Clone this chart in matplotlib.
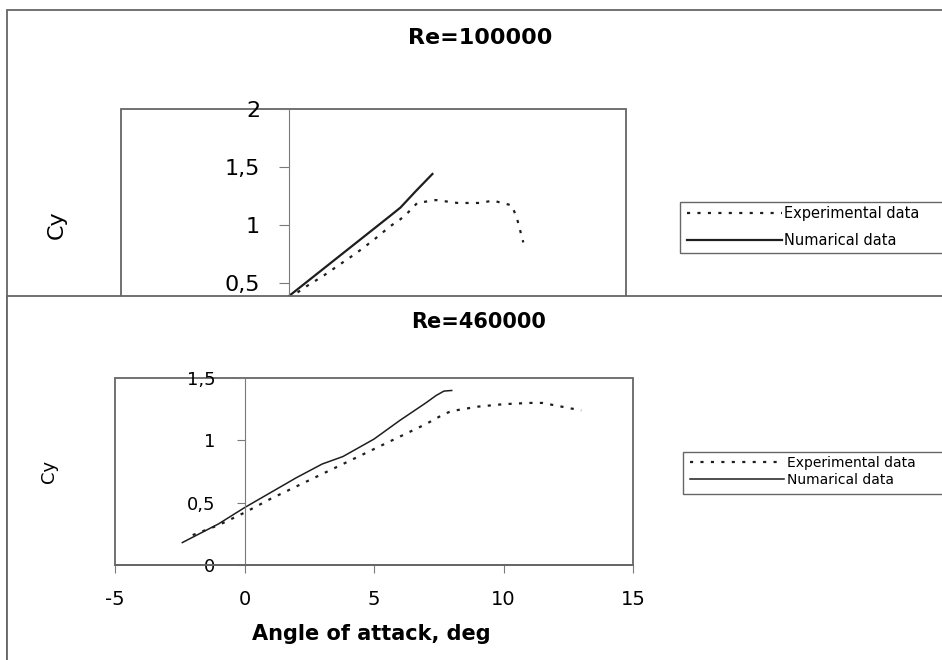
import matplotlib
matplotlib.use("Agg")
import matplotlib.pyplot as plt
from matplotlib.patches import Rectangle

# figure size in pixels, everything below is placed on this grid
W, H = 942, 660

# ---- data: Re = 100000 (upper chart) ----
exp_top_x = [-2, 0, 1, 2, 3, 4, 5, 6, 6.6, 7, 7.6, 8.7, 10, 11.3, 12.1, 13.2, 13.5, 13.9]
exp_top_y = [0.15, 0.37, 0.47, 0.56, 0.66, 0.76, 0.87, 0.99, 1.05, 1.10, 1.19, 1.215,
             1.19, 1.19, 1.21, 1.17, 1.07, 0.85]
num_top_x = [-2, 0, 2, 4, 6, 6.6, 7.5, 8.5]
num_top_y = [0.16, 0.39, 0.62, 0.85, 1.08, 1.15, 1.29, 1.44]

# ---- data: Re = 460000 (lower chart) ----
exp_bot_x = [-2, -1, 0, 1, 2, 3, 4, 5, 6, 7, 7.7, 8, 9, 10, 11, 11.5, 12, 13]
exp_bot_y = [0.24, 0.32, 0.42, 0.53, 0.63, 0.73, 0.83, 0.93, 1.03, 1.13, 1.21, 1.235,
             1.27, 1.29, 1.30, 1.30, 1.28, 1.24]
num_bot_x = [-2.4, -1, 0, 1, 2, 3, 3.8, 5, 6, 7, 7.4, 7.7, 8]
num_bot_y = [0.18, 0.33, 0.46, 0.58, 0.70, 0.81, 0.87, 1.01, 1.16, 1.30, 1.36, 1.395, 1.40]

top_yticks = [0.5, 1, 1.5, 2]
top_yticklabels = ["0,5", "1", "1,5", "2"]
bot_yticks = [0, 0.5, 1, 1.5]
bot_yticklabels = ["0", "0,5", "1", "1,5"]
bot_xticks = [-5, 0, 5, 10, 15]
bot_xticklabels = ["-5", "0", "5", "10", "15"]

labels = ["Experimental data", "Numarical data"]

FRAME = "#666666"
AXIS = "#7a7a7a"
INK = "#1e1e1e"


def frac_rect(x0, y0, x1, y1):
    # pixel box (top-left origin) -> figure fraction [left, bottom, width, height]
    return [x0 / W, 1 - y1 / H, (x1 - x0) / W, (y1 - y0) / H]


def fig_box(x0, y0, x1, y1, **kw):
    l, b, w, h = frac_rect(x0, y0, x1, y1)
    return Rectangle((l, b), w, h, transform=fig.transFigure, **kw)


def style_axes(ax):
    # excel style: y axis sits at x = 0, plot area drawn as a box
    ax.spines["left"].set_position(("data", 0))
    ax.spines["left"].set_color(AXIS)
    ax.spines["left"].set_linewidth(0.8)
    ax.spines["right"].set_visible(False)
    ax.spines["top"].set_visible(False)
    ax.add_patch(Rectangle((0, 0), 1, 1, transform=ax.transAxes, fill=False,
                           edgecolor=FRAME, linewidth=1.3, clip_on=False))


fig = plt.figure(figsize=(W / 100, H / 100), dpi=100)

# outer frame of the first chart
fig.add_artist(fig_box(7, 10, 990, 720, fill=False, edgecolor=FRAME, linewidth=1.3, zorder=0.5))

# ---- upper chart ----
ax1 = fig.add_axes(frac_rect(121, 109, 626, 341), zorder=0)
ax1.plot(exp_top_x, exp_top_y, color=INK, linewidth=1.6, linestyle=(0, (1.4, 3.3)),
         dash_capstyle="butt")
ax1.plot(num_top_x, num_top_y, color=INK, linewidth=1.6)
ax1.set_xlim(-10, 20)
ax1.set_ylim(0, 2)
style_axes(ax1)
ax1.spines["bottom"].set_visible(False)
ax1.tick_params(axis="x", bottom=False, labelbottom=False)
ax1.set_yticks(top_yticks)
ax1.set_yticklabels(top_yticklabels)
ax1.tick_params(axis="y", direction="out", length=7, width=0.8, color=AXIS, pad=14,
                labelsize=16)
ax1.set_ylabel("Cy", fontsize=16)
ax1.yaxis.set_label_coords(-0.107, 0.5)
fig.text(480 / W, 1 - 38 / H, "Re=100000", ha="center", va="center",
         fontsize=16, fontweight="bold")

fig.add_artist(fig_box(680, 202, 990, 253, facecolor="white", edgecolor=FRAME,
                       linewidth=1.0, zorder=0.8))
fig.legend(ax1.get_lines(), labels, loc="upper left",
           bbox_to_anchor=(687 / W, 1 - 206 / H), frameon=False, fontsize=10.5,
           handlelength=6.5, handletextpad=0.15, borderpad=0, borderaxespad=0,
           labelspacing=0.85)

# ---- second chart pasted over the lower part of the first ----
fig.add_artist(fig_box(7, 296, 990, 720, facecolor="white", edgecolor=FRAME,
                       linewidth=1.3, zorder=1))

ax2 = fig.add_axes(frac_rect(115, 378, 633, 565), zorder=2)
ax2.plot(exp_bot_x, exp_bot_y, color=INK, linewidth=1.6, linestyle=(0, (1.4, 3.3)),
         dash_capstyle="butt")
ax2.plot(num_bot_x, num_bot_y, color=INK, linewidth=1.1)
ax2.set_xlim(-5, 15)
ax2.set_ylim(0, 1.5)
style_axes(ax2)
ax2.spines["bottom"].set_color(FRAME)
ax2.spines["bottom"].set_linewidth(1.3)
ax2.set_xticks(bot_xticks)
ax2.set_xticklabels(bot_xticklabels)
ax2.set_yticks(bot_yticks)
ax2.set_yticklabels(bot_yticklabels)
ax2.tick_params(axis="x", direction="out", length=6, width=0.8, color=AXIS, pad=12,
                labelsize=14)
ax2.tick_params(axis="y", direction="out", length=6, width=0.8, color=AXIS, pad=15,
                labelsize=13)
ax2.set_ylabel("Cy", fontsize=13)
ax2.yaxis.set_label_coords(-0.110, 0.5)
ax2.set_xlabel("Angle of attack, deg", fontsize=15, fontweight="bold")
ax2.xaxis.set_label_coords(0.494, -0.318)
fig.text(479 / W, 1 - 322 / H, "Re=460000", ha="center", va="center",
         fontsize=15, fontweight="bold")

fig.add_artist(fig_box(683, 452, 990, 494, facecolor="white", edgecolor=FRAME,
                       linewidth=1.0, zorder=1.5))
fig.legend(ax2.get_lines(), labels, loc="upper left",
           bbox_to_anchor=(690 / W, 1 - 456 / H), frameon=False, fontsize=10,
           handlelength=6.8, handletextpad=0.15, borderpad=0, borderaxespad=0,
           labelspacing=0.2)

fig.savefig("out.png", dpi=100)
